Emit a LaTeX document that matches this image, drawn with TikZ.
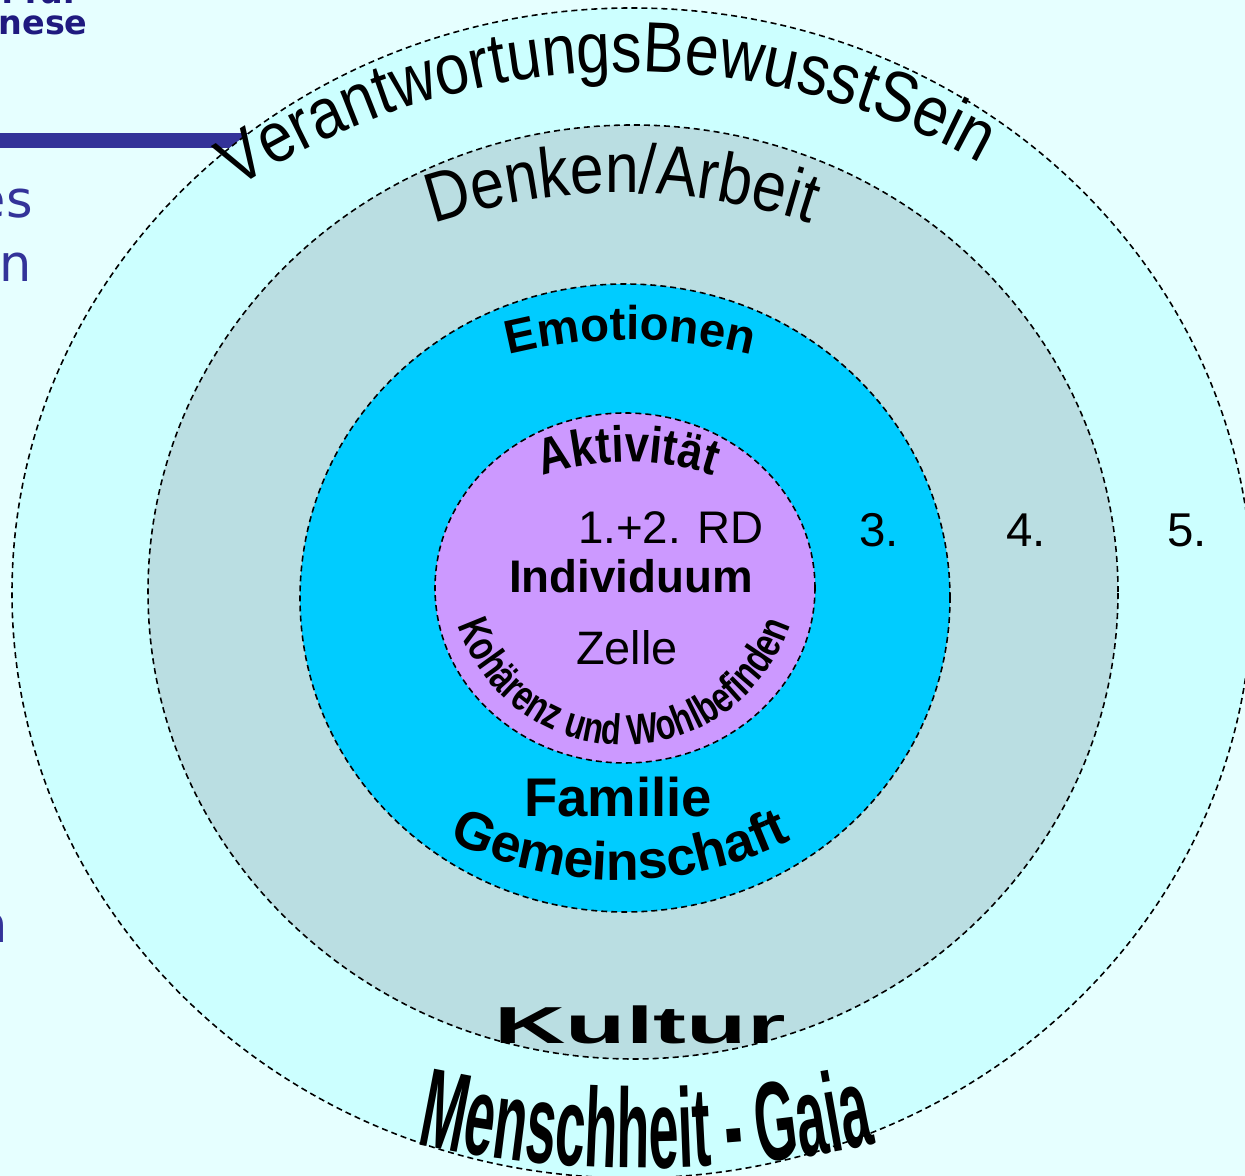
\documentclass[tikz,border=0pt]{standalone}
\usepackage{fontspec}
\setmainfont{Liberation Sans}
\newfontfamily\slimfont[FakeStretch=0.48]{Liberation Sans}
\newfontfamily\broadfont[FakeStretch=1.9]{Liberation Sans}
\newfontfamily\narrowfont[FakeStretch=0.75]{Liberation Sans}
\newfontfamily\tallfont[FakeStretch=0.86]{Liberation Sans}
\newfontfamily\slidefont{DejaVu Sans}
\usetikzlibrary{decorations.text}

\definecolor{pagebg}{HTML}{E6FFFF}
\definecolor{gaiacol}{HTML}{CCFFFF}
\definecolor{kulturcol}{HTML}{BADEE2}
\definecolor{familiecol}{HTML}{00CCFF}
\definecolor{zellecol}{HTML}{CC99FF}
\definecolor{slideblue}{HTML}{333399}
\definecolor{slidenavy}{HTML}{1F1A7F}

\tikzset{
  ring/.style={draw=black, line width=0.9pt, dash pattern=on 3.4pt off 2.3pt},
  lbl/.style={inner sep=0pt, text=black},
  frag/.style={inner sep=0pt, anchor=base east, text=slideblue,
    font=\slidefont\fontsize{29}{30}\selectfont},
  arch/.style={decorate, decoration={text along path, text align=center, text={#1}}}
}

\begin{document}
\begin{tikzpicture}[x=0.02cm, y=0.02cm]
\useasboundingbox (0,0) rectangle (1245,1176);
\clip (0,0) rectangle (1245,1176);
\fill[pagebg] (0,0) rectangle (1245,1176);

%% bits of the slide behind
\fill[slideblue] (0,1028) rectangle (300,1043);
\node[frag, text=slidenavy, font=\slidefont\bfseries\fontsize{19}{20}\selectfont] (top) at (80,1172) {n für};
\node[frag, text=slidenavy, font=\slidefont\bfseries\fontsize{19}{20}\selectfont] (nese) at (88,1141) {nese};
\node[frag] (es) at (33,958) {es};
\node[frag] (na) at (32,894) {n};
\node[frag] (nb) at (8,233) {n};

%% the rings
\draw[ring, fill=gaiacol] (632,583) ellipse [x radius=620, y radius=585];
\draw[ring, fill=kulturcol] (633,584) ellipse [x radius=485, y radius=467];
\draw[ring, fill=familiecol] (625,578) ellipse [x radius=325, y radius=314];
\draw[ring, fill=zellecol] (625,588) ellipse [x radius=190, y radius=175];

%% arched labels
\path[arch={|\tallfont\fontsize{40.5}{42}\selectfont|VerantwortungsBewusstSein}, shift={(630,384)}]
  (131:720) arc [start angle=131, end angle=53, radius=720];
\path[arch={|\tallfont\fontsize{40}{42}\selectfont|Denken/Arbeit}, shift={(622,388)}]
  (117:595) arc [start angle=117, end angle=63, radius=595];
\path[arch={|\bfseries\fontsize{27}{29}\selectfont|Emotionen}, shift={(630,340)}]
  (110:496) arc [start angle=110, end angle=70, radius=496];
\path[arch={|\tallfont\bfseries\fontsize{29}{30}\selectfont|Aktivität}, shift={(628,449)}]
  (115:265) arc [start angle=115, end angle=65, radius=265];
\path[arch={|\narrowfont\bfseries\fontsize{24.5}{26}\selectfont|Kohärenz und Wohlbefinden}, shift={(624,606)}]
  (190:175) arc [start angle=190, end angle=350, radius=175];
\path[arch={|\bfseries\fontsize{30.5}{32}\selectfont|Gemeinschaft}, shift={(620,682)}]
  (235:386) arc [start angle=235, end angle=305, radius=386];
\path[arch={|\slimfont\bfseries\fontsize{64}{66}\selectfont|Menschheit - Gaia}, shift={(646,1108)}]
  (255:1100) arc [start angle=255, end angle=285, radius=1100];

%% straight labels
\node[lbl, font=\fontsize{26}{28}\selectfont] (rd) at (671,648) {1.+2. RD};
\node[lbl, font=\bfseries\fontsize{26}{28}\selectfont] (individuum) at (631,600) {Individuum};
\node[lbl, font=\fontsize{26.7}{28}\selectfont] (zelle) at (627,528) {Zelle};
\node[lbl, font=\bfseries\fontsize{31}{33}\selectfont] (familie) at (618,379) {Familie};
\node[lbl, font=\broadfont\bfseries\fontsize{29.6}{31}\selectfont] (kultur) at (640,151) {Kultur};
\node[lbl, font=\fontsize{27}{29}\selectfont] (three) at (879,646) {3.};
\node[lbl, font=\fontsize{27}{29}\selectfont] (four) at (1026,646) {4.};
\node[lbl, font=\fontsize{27}{29}\selectfont] (five) at (1187,646) {5.};

\end{tikzpicture}
\end{document}
